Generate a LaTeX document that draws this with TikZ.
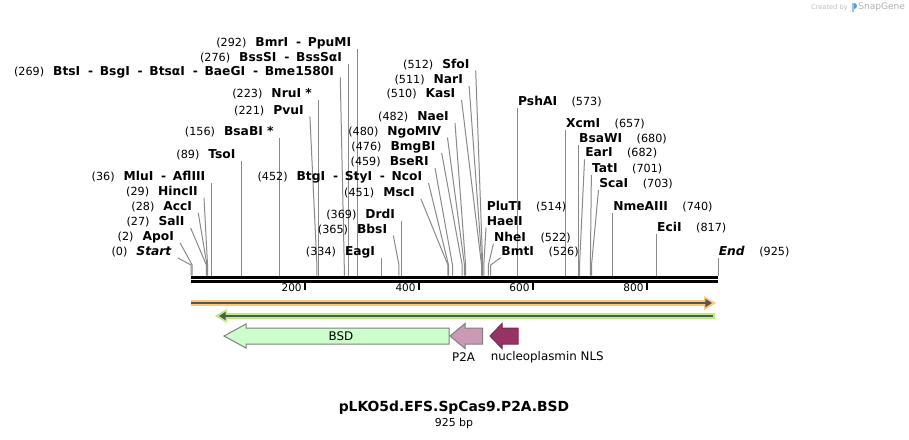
\documentclass[tikz,border=0pt]{standalone}
\usepackage{fontspec}
\setmainfont{DejaVu Sans}
\usetikzlibrary{arrows.meta}
\definecolor{cutgray}{HTML}{8A8A8A}
\definecolor{bargray}{HTML}{555555}
\definecolor{orangebar}{HTML}{FAC878}
\definecolor{greenbar}{HTML}{B5F07E}
\definecolor{bsdgreen}{HTML}{CCFFCC}
\definecolor{ptwoapink}{HTML}{CC99B4}
\definecolor{nlspurple}{HTML}{993366}
\definecolor{sgblue}{HTML}{5B9BD5}
\newcommand{\enzsep}{\hspace{5.9pt}-\hspace{5pt}}
\newcommand{\posfont}{\mdseries\fontsize{8.4}{10}\selectfont}

\begin{document}
\begin{tikzpicture}[x=0.75pt,y=-0.75pt,
  enzlabel/.style={font=\fontsize{9.2}{11}\selectfont\bfseries, inner sep=0pt},
  poslabel/.style={font=\posfont, inner sep=0pt},
  cutline/.style={cutgray, line width=0.75pt},
  featbox/.style={draw=gray, line width=0.75pt},
  featlabel/.style={font=\fontsize{8.9}{11}\selectfont, inner sep=0pt}]
\fill[white] (0,0) rectangle (909,439);
\useasboundingbox (0,0) rectangle (909,439);

% backbone and ruler
\draw[line width=2.25pt] (191,277.3) -- (718,277.3);
\draw[line width=1.6pt] (191,281.5) -- (718,281.5);
\foreach \t in {200,400,600,800}{
  \pgfmathsetmacro{\tx}{191+0.5697*\t}
  \draw[line width=1.5pt] (\tx,282) -- (\tx,290);
  \node[font=\fontsize{7.9}{9}\selectfont, anchor=east, inner sep=0pt] (tick\t) at (\tx-3,288) {\t};
}

% sites labelled on the left
\foreach \bp/\dx/\ty/\name [count=\i] in {
  292/0/48.5/{BmrI\enzsep PpuMI},
  276/0/63.5/{BssSI\enzsep BssSαI},
  269/-4/77.5/{BtsI\enzsep BsgI\enzsep BtsαI\enzsep BaeGI\enzsep Bme1580I},
  223/0/100/{NruI *},
  221/-7/116.5/PvuI,
  156/0/138/{BsaBI *},
  89/0/161/TsoI,
  36/0/183/{MluI\enzsep AflIII},
  29/-3.5/198/HincII,
  28/-8.7/213/AccI,
  27/-15.7/228/SalI,
  2/-12/243/ApoI,
  452/-20/183/{BtgI\enzsep StyI\enzsep NcoI},
  451/-27/199/MscI,
  369/0/220.5/DrdI,
  365/-5.6/235.5/BbsI,
  334/0/258/EagI,
  512/-7/70.5/SfoI,
  511/-13/86/NarI,
  510/-20/100/KasI,
  482/-10.6/123/NaeI,
  480/-17/137.5/NgoMIV,
  476/-20.5/153/BmgBI,
  459/-17.5/168/BseRI}{
  \pgfmathsetmacro{\sx}{191+0.5697*\bp}
  \pgfmathsetmacro{\tx}{\sx+\dx}
  \coordinate (lt\i) at (\tx,\ty);
  \coordinate (ls\i) at (\sx,275.5);
  \node[enzlabel, anchor=base east] (lab\i) at ([shift={(-6,-2.5)}]lt\i) {{\posfont(\bp)}\hspace{6.75pt}\name};
  \draw[cutline] (lt\i) -- (\sx,265) -- (ls\i);
}

% sites labelled on the right
\foreach \bp/\dx/\ty/\name [count=\i] in {
  573/0/108.3/PshAI,
  657/0/130/XcmI,
  680/0/145.3/BsaWI,
  682/5/159.3/EarI,
  701/1/175/TatI,
  703/7/190/ScaI,
  740/0/212.7/NmeAIII,
  817/0/234.3/EciI,
  522/5/243.7/NheI,
  526/10/257.7/BmtI}{
  \pgfmathsetmacro{\sx}{191+0.5697*\bp}
  \pgfmathsetmacro{\tx}{\sx+\dx}
  \coordinate (rt\i) at (\tx,\ty);
  \coordinate (rs\i) at (\sx,275.5);
  \node[enzlabel, anchor=base west] (rab\i) at ([shift={(0.5,-2.5)}]rt\i) {\name};
  \node[poslabel, anchor=base west] (rpos\i) at ([shift={(14,0)}]rab\i.base east) {(\bp)};
  \draw[cutline] (rt\i) -- (\sx,265) -- (rs\i);
}

% PluTI / HaeII share one site
\coordinate (haet) at (486,227.7);
\coordinate (haes) at (483.8,275.5);
\node[enzlabel, anchor=base west] (haeii) at ([shift={(0.5,-2.5)}]haet) {HaeII};
\node[enzlabel, anchor=base west] (pluti) at ([shift={(0,-15)}]haeii.base west) {PluTI};
\node[poslabel, anchor=base west] (plutipos) at ([shift={(14,0)}]pluti.base east) {(514)};
\draw[cutline] (haet) -- (483.8,265) -- (haes);

% start and end
\coordinate (startt) at (178,258);
\coordinate (starts) at (191,275.5);
\node[enzlabel, anchor=base east] (start) at ([shift={(-6,-2.5)}]startt) {{\posfont(0)}\hspace{6.75pt}\textit{Start}};
\draw[cutline] (startt) -- (191,265) -- (starts);
\coordinate (endt) at (718,257.7);
\coordinate (ends) at (718,275.5);
\node[enzlabel, anchor=base west] (end) at ([shift={(0.5,-2.5)}]endt) {\textit{End}};
\node[poslabel, anchor=base west] (endpos) at ([shift={(14,0)}]end.base east) {(925)};
\draw[cutline] (endt) -- (ends);

% strand bars
\draw[orangebar, line width=4.5pt] (191,303) -- (708,303);
\fill[orangebar] (704,296) -- (716,303) -- (704,310) -- cycle;
\draw[bargray, line width=1.5pt, -{Triangle[length=5pt,width=6pt]}] (191,303) -- (712,303);
\draw[greenbar, line width=4pt] (222,316) -- (715,316);
\fill[greenbar] (227,309) -- (215,316) -- (227,323) -- cycle;
\draw[bargray, line width=1.5pt, {Triangle[length=5pt,width=6pt]}-] (219,316) -- (713,316);

% features
\draw[featbox, fill=bsdgreen] (224,336) -- (246,324) -- (246,328) -- (449,328) -- (449,344) -- (246,344) -- (246,348) -- cycle;
\node[featlabel] (bsd) at (341,336) {BSD};
\draw[featbox, fill=ptwoapink] (450,336) -- (465,323.5) -- (465,328) -- (482.5,328) -- (482.5,344) -- (465,344) -- (465,348.5) -- cycle;
\node[featlabel] (p2a) at (463.5,357.5) {P2A};
\draw[draw=nlspurple!80!black, line width=0.75pt, fill=nlspurple] (490,336) -- (502,323.5) -- (502,328) -- (518,328) -- (518,344) -- (502,344) -- (502,348.5) -- cycle;
\node[featlabel] (nls) at (547.2,357.5) {nucleoplasmin NLS};

% title
\node[font=\fontsize{10.4}{12}\selectfont\bfseries, inner sep=0pt] (title) at (454,408) {pLKO5d.EFS.SpCas9.P2A.BSD};
\node[font=\fontsize{8.2}{10}\selectfont, inner sep=0pt] (length) at (454,423) {925 bp};

\node[font=\fontsize{5}{6}\selectfont, text=gray!50, anchor=east, inner sep=0pt] (created) at (848,7.5) {Created by};
\fill[sgblue!60] (851.5,2.5) rectangle (853.5,12);
\fill[sgblue] (853.5,2.5) .. controls (857.5,2.5) and (857.5,8.5) .. (853.5,8.5) -- cycle;
\node[font=\fontsize{6.8}{8}\selectfont, text=gray!60, anchor=west, inner sep=0pt] (snapgene) at (858,7.5) {SnapGene};
\end{tikzpicture}
\end{document}
